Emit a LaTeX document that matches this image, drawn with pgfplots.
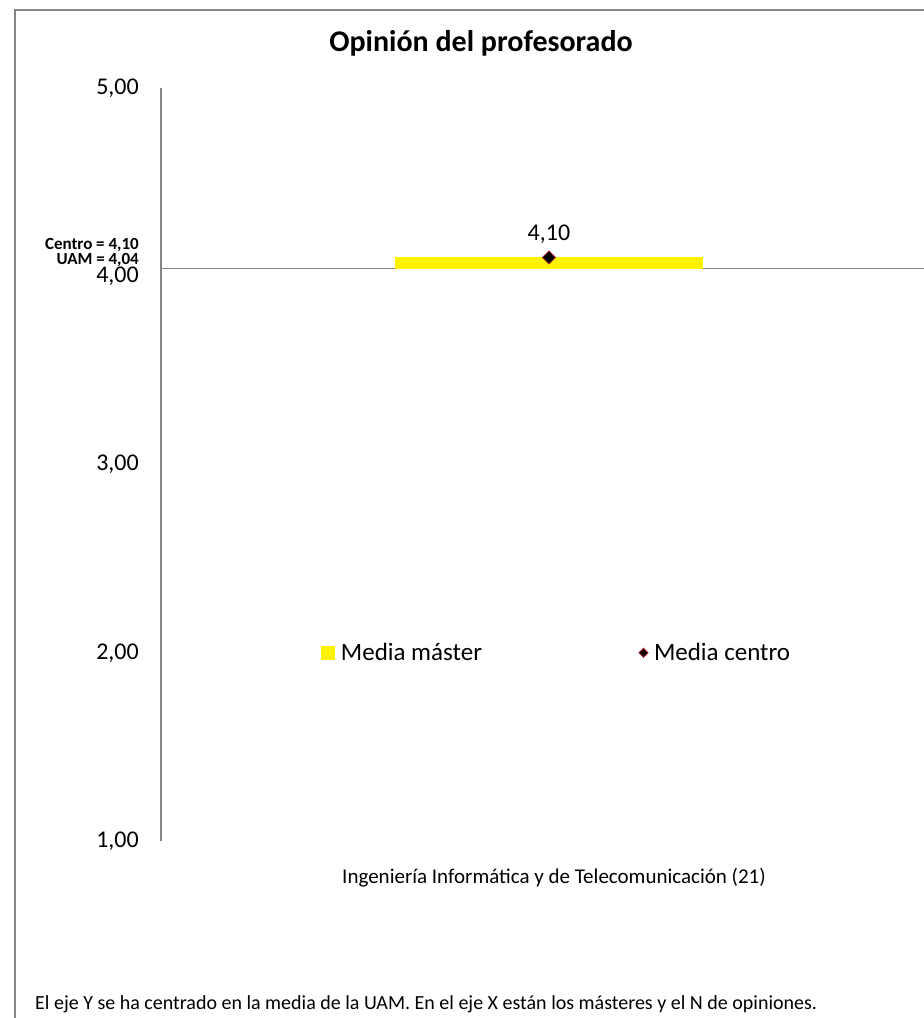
\documentclass[border=0pt]{standalone}
\usepackage{fontspec}
\setmainfont{Carlito}
\usepackage{pgfplots}
\pgfplotsset{compat=1.18}
\definecolor{framegray}{HTML}{868686}
\definecolor{markred}{HTML}{A0202A}

\begin{document}
\begin{tikzpicture}
\useasboundingbox (0,0) rectangle (924pt,-1018pt);
% chart area border, cut off on the right and at the bottom
\draw[framegray, line width=2pt] (15pt,-1030pt) -- (15pt,-10pt) -- (940pt,-10pt);
\node[font=\bfseries\fontsize{30}{35}\selectfont] at (481pt,-43pt) {Opinión del profesorado};
\node[anchor=east, inner sep=0pt, font=\bfseries\fontsize{17}{19}\selectfont] at (139pt,-245pt) {Centro = 4,10};
\node[anchor=east, inner sep=0pt, font=\bfseries\fontsize{17}{19}\selectfont] at (139pt,-260pt) {UAM = 4,04};
\begin{axis}[
    at={(161pt,-841pt)}, anchor=south west,
    scale only axis,
    width=763pt, height=753pt,
    xmin=-0.5, xmax=0.4833,
    ymin=1, ymax=5,
    ytick={1,2,3,4,5},
    xtick={0},
    xticklabels={Ingeniería Informática y de Telecomunicación (21)},
    axis line style={draw=none},
    major tick length=0pt,
    clip=false,
    yticklabel style={font=\fontsize{24}{28}\selectfont, inner sep=0pt, xshift=-22pt,
        /pgf/number format/.cd, fixed, fixed zerofill, precision=2, use comma, assume math mode=true},
    xticklabel style={font=\fontsize{21}{25}\selectfont, yshift=-24pt, xshift=5pt},
    legend style={at={(0.521,0.25)}, anchor=center, draw=none, fill=none,
        font=\fontsize{25}{29}\selectfont, legend columns=2,
        nodes={inner sep=6pt},
        /tikz/every even column/.append style={column sep=151pt}},
]
% value axis line
\draw[framegray, line width=1.5pt] (rel axis cs:0,0) -- (rel axis cs:0,1);
% UAM mean = 4.04, horizontal axis crosses here
\addplot[framegray, line width=1.5pt, forget plot] coordinates {(-0.5,4.04) (0.4833,4.04)};
% Media master: bar from the UAM mean (4.04) up to 4.10
\addplot[fill=yellow, draw=none,
    legend image code/.code={\fill[yellow] (0pt,-7pt) rectangle (14pt,7pt);}]
    coordinates {(-0.1985,4.04) (-0.1985,4.10) (0.1985,4.10) (0.1985,4.04)} -- cycle;
\addlegendentry{Media máster}
% Media centro
\addplot[only marks, mark=square*, mark size=4.6pt,
    mark options={rotate=45, fill=black, draw=markred, line width=0.8pt},
    nodes near coords={\pgfmathprintnumber[fixed, fixed zerofill, precision=2, use comma, assume math mode=true]{\pgfplotspointmeta}},
    point meta=y,
    every node near coord/.append style={anchor=south, inner sep=0pt, yshift=13pt,
        font=\fontsize{24}{28}\selectfont, text=black},
    legend image code/.code={\draw[only marks, mark=square*, mark size=3.2pt,
        mark options={rotate=45, fill=black, draw=markred, line width=0.8pt}] plot coordinates {(7pt,0pt)};}]
    coordinates {(0,4.10)};
\addlegendentry{Media centro}
\end{axis}
\node[anchor=west, inner sep=0pt, font=\fontsize{20}{24}\selectfont] at (35pt,-1004pt) {El eje Y se ha centrado en la media de la UAM. En el eje X están los másteres y el N de opiniones.};
\end{tikzpicture}
\end{document}
